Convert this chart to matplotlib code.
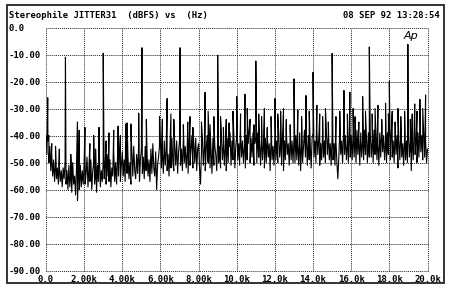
import numpy as np
import matplotlib
matplotlib.use("Agg")
import matplotlib.pyplot as plt
from matplotlib.patches import Rectangle

floor_db = [
    -40, -47, -42, -50, -44, -53, -47, -55, -49, -57, -50, -56, -52, -58, -51, -57, -53, -59, -52, -56,
    -50, -58, -53, -60, -51, -59, -54, -61, -50, -58, -55, -62, -52, -64, -54, -60, -51, -59, -53, -58,
    -50, -58, -54, -48, -59, -52, -57, -49, -60, -53, -50, -58, -54, -61, -51, -57, -48, -59, -53, -57,
    -49, -56, -51, -58, -47, -55, -57, -49, -59, -52, -55, -46, -57, -50, -58, -48, -55, -47, -57, -51,
    -46, -55, -49, -57, -45, -54, -48, -56, -50, -58, -46, -55, -44, -53, -56, -47, -54, -45, -57, -49,
    -45, -54, -48, -56, -44, -53, -47, -55, -49, -57, -45, -54, -43, -52, -55, -46, -60, -51, -48, -44,
    -43, -52, -46, -54, -42, -51, -45, -53, -47, -55, -43, -52, -41, -50, -53, -44, -51, -42, -54, -46,
    -42, -51, -45, -53, -41, -50, -44, -52, -46, -54, -42, -51, -45, -40, -52, -43, -50, -41, -53, -45,
    -43, -52, -58, -46, -41, -51, -44, -53, -45, -40, -50, -42, -52, -45, -54, -41, -51, -44, -47, -53,
    -41, -50, -44, -52, -40, -49, -43, -51, -45, -53, -41, -50, -44, -39, -51, -42, -49, -40, -52, -44,
    -40, -49, -43, -51, -39, -48, -42, -50, -44, -52, -40, -49, -43, -38, -50, -41, -48, -39, -51, -43,
    -41, -50, -39, -48, -43, -51, -40, -49, -44, -52, -41, -50, -39, -48, -43, -53, -40, -49, -44, -51,
    -40, -49, -42, -50, -39, -48, -43, -51, -40, -53, -42, -49, -38, -47, -43, -51, -40, -49, -42, -50,
    -41, -50, -40, -49, -43, -51, -39, -53, -42, -50, -44, -38, -48, -41, -51, -40, -49, -43, -52, -41,
    -39, -48, -42, -50, -38, -47, -41, -51, -43, -49, -39, -48, -42, -50, -38, -47, -40, -49, -43, -51,
    -40, -49, -43, -51, -42, -50, -56, -48, -39, -47, -42, -50, -38, -47, -40, -49, -43, -50, -39, -48,
    -40, -49, -39, -48, -42, -50, -38, -47, -40, -51, -39, -48, -42, -49, -38, -47, -40, -50, -39, -48,
    -39, -48, -42, -50, -38, -47, -40, -49, -43, -51, -39, -48, -37, -46, -40, -49, -42, -50, -39, -47,
    -40, -49, -39, -48, -42, -50, -38, -47, -40, -52, -42, -49, -39, -48, -43, -51, -40, -49, -42, -50,
    -39, -48, -42, -53, -40, -49, -38, -47, -42, -50, -39, -48, -37, -46, -40, -49, -39, -48, -42, -50,
    -45,
]
floor_khz = np.arange(len(floor_db)) * 0.05

# discrete spectral lines (kHz, dBFS)
spike_khz = [0.09, 0.15, 1.02, 1.65, 1.74, 2.04, 2.5, 2.78, 3.0, 3.3, 3.55,
             3.78, 4.18, 4.25, 4.45, 4.86, 5.03, 5.26, 5.95, 6.35, 6.7,
             7.03, 7.2, 7.43, 7.7, 8.34, 8.6, 8.8, 9.0, 9.3, 9.6, 10.0,
             10.43, 10.7, 10.9, 11.0, 11.3, 11.6, 12.0, 12.3, 12.6, 12.8,
             13.0, 13.2, 13.63, 14.0, 14.2, 14.5, 14.8, 15.0, 15.62, 15.93,
             16.2, 16.4, 16.6, 16.95, 17.1, 17.4, 17.6, 17.8, 18.0, 18.3,
             18.6, 18.97, 19.1, 19.33, 19.45, 19.6, 19.9]
spike_db = [-26, -40, -11, -35, -38, -37, -40, -37, -9.5, -39, -38,
            -36.5, -35.7, -35.3, -35.7, -31.7, -7.5, -34, -33, -26.3, -34,
            -7.5, -36, -35, -37, -24, -36, -33, -10.3, -37, -35.3, -25.6,
            -24.7, -34, -36, -12.4, -33, -37, -26.3, -31, -34, -36,
            -19, -30.5, -25.2, -16.6, -28.8, -33, -35, -9.6, -23.3, -24,
            -33, -35, -25.6, -7.2, -32, -28.8, -34, -28, -20, -35,
            -33, -6.2, -34, -28.3, -31, -26.6, -25]

# smaller lines poking out of the floor
minor_khz = [0.3, 0.5, 0.7, 1.3, 2.3, 2.6, 3.15, 3.9, 6.1, 6.55, 7.55, 8.15,
             8.5, 9.15, 9.45, 9.8, 10.2, 10.55, 11.15, 11.45, 11.8, 12.15,
             12.45, 13.4, 13.8, 14.35, 14.65, 15.2, 15.4, 15.8, 16.1, 16.75,
             17.25, 17.95, 18.15, 18.45, 18.8, 19.2, 19.75]
minor_db = [-43, -44, -45, -47, -43, -45, -42, -40, -34, -32, -33, -35,
            -31, -33, -34, -31, -32, -30, -32, -30, -33, -32,
            -30, -33, -31, -32, -30, -33, -31, -32, -30, -31,
            -30, -32, -31, -30, -31, -32, -30]

freq = np.concatenate([floor_khz, spike_khz, minor_khz])
level = np.concatenate([floor_db, spike_db, minor_db])
order = np.argsort(freq, kind="stable")
freq = freq[order]
level = level[order]

plt.rcParams['font.family'] = ['DejaVu Sans Mono']
W, H = 450, 295
fig = plt.figure(figsize=(W / 100, H / 100), dpi=100)
fig.patch.set_facecolor("white")

# outer frame
fig.patches.append(Rectangle((7 / W, 1 - 283 / H), (444 - 7) / W, (283 - 4.5) / H,
                             transform=fig.transFigure, fill=False,
                             edgecolor="#333333", linewidth=1.4))

ax = fig.add_axes([46 / W, 1 - 270.6 / H, (427.5 - 46) / W, (270.6 - 27.5) / H])
ax.plot(freq, level, color="black", linewidth=0.8)

ax.set_xlim(0, 20)
ax.set_ylim(-90, 0)
xt = np.arange(0, 21, 2)
yt = np.arange(0, -91, -10)
ax.set_xticks(xt)
ax.set_xticklabels(["0.0", "2.00k", "4.00k", "6.00k", "8.00k", "10.0k",
                    "12.0k", "14.0k", "16.0k", "18.0k", "20.0k"],
                   fontsize=6.5, fontweight="bold")
ax.set_yticks(yt)
ax.set_yticklabels(["0.0"] + ["%.2f" % v for v in yt[1:]],
                   fontsize=6.5, fontweight="bold", ha="left")
ax.tick_params(axis="y", length=0, pad=27)
ax.tick_params(axis="x", length=0, pad=3)
for s in ax.spines.values():
    s.set_visible(False)
ax.grid(True, color="#222222", linestyle=(0, (1, 1)), linewidth=0.7)
for gl in ax.get_xgridlines() + ax.get_ygridlines():
    gl.set_clip_on(False)

fig.text(9 / W, 1 - 15 / H, "Stereophile JITTER31  (dBFS) vs  (Hz)",
         fontsize=6.4, fontweight="bold", ha="left", va="center")
fig.text(440 / W, 1 - 15 / H, "08 SEP 92 13:28:54",
         fontsize=6.4, fontweight="bold", ha="right", va="center")
fig.text(411 / W, 1 - 36 / H, "Ap", fontsize=8, style="italic",
         family="DejaVu Sans", ha="center", va="center")

fig.savefig("out.png", dpi=100)
